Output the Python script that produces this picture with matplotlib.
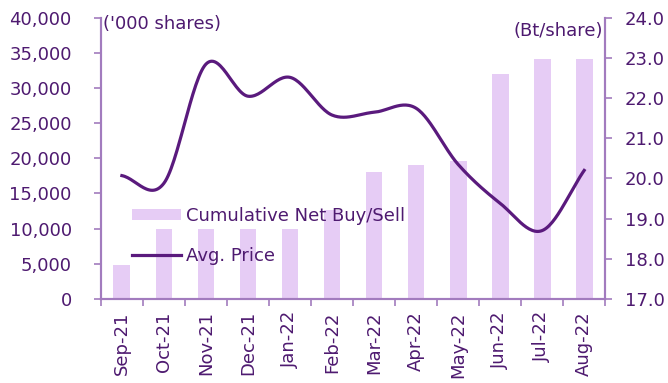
import numpy as np
import matplotlib.pyplot as plt

months = ['Sep-21', 'Oct-21', 'Nov-21', 'Dec-21', 'Jan-22', 'Feb-22',
          'Mar-22', 'Apr-22', 'May-22', 'Jun-22', 'Jul-22', 'Aug-22']
net_buy = [4800, 10000, 10000, 10000, 10000, 12600,
           18100, 19000, 19600, 32000, 34200, 34200]
avg_price = [20.07, 19.88, 22.85, 22.05, 22.52, 21.58,
             21.65, 21.75, 20.35, 19.38, 18.70, 20.20]

bar_col = '#E6CCF5'
line_col = '#5A1A7D'
text_col = '#4E1A70'
axis_col = '#A27BBE'


def smooth(xs, ys, n=30):
    # catmull-rom style curve through the points (like excel's smoothed line)
    xs = np.asarray(xs, float)
    ys = np.asarray(ys, float)
    px = np.concatenate([[2 * xs[0] - xs[1]], xs, [2 * xs[-1] - xs[-2]]])
    py = np.concatenate([[2 * ys[0] - ys[1]], ys, [2 * ys[-1] - ys[-2]]])
    out_x, out_y = [], []
    t = np.linspace(0, 1, n)
    for i in range(1, len(px) - 2):
        p0, p1, p2, p3 = [np.array([px[j], py[j]]) for j in range(i - 1, i + 3)]
        c1 = p1 + (p2 - p0) / 6
        c2 = p2 - (p3 - p1) / 6
        pts = ((1 - t) ** 3)[:, None] * p1 + (3 * (1 - t) ** 2 * t)[:, None] * c1 \
            + (3 * (1 - t) * t ** 2)[:, None] * c2 + (t ** 3)[:, None] * p2
        out_x.extend(pts[:, 0])
        out_y.extend(pts[:, 1])
    return out_x, out_y


plt.rcParams['font.family'] = 'DejaVu Sans'
fig = plt.figure(figsize=(6.68, 3.83), dpi=100)
ax = fig.add_axes([0.151, 0.22, 0.755, 0.733])
x = np.arange(len(months))

bars = ax.bar(x, net_buy, width=0.4, color=bar_col, label='Cumulative Net Buy/Sell', zorder=1)
ax.set_xlim(-0.5, len(months) - 0.5)
ax.set_ylim(0, 40000)
ax.set_yticks(range(0, 40001, 5000))
ax.set_yticklabels([f'{v:,}' for v in range(0, 40001, 5000)])
ax.set_xticks(x)
ax.set_xticklabels(months, rotation=90)
ax.set_xticks(np.arange(-0.5, len(months)), minor=True)
ax.tick_params(axis='x', which='major', length=0, pad=9)
ax.tick_params(axis='x', which='minor', length=5, color=axis_col, width=1.2)
ax.tick_params(axis='y', length=5, color=axis_col, width=1.2, pad=16)
ax.tick_params(labelsize=13, labelcolor=text_col)

ax2 = ax.twinx()
sx, sy = smooth(x, avg_price)
line, = ax2.plot(sx, sy, color=line_col, lw=2.3, label='Avg. Price')
ax2.set_ylim(17, 24)
ax2.set_yticks(np.arange(17, 24.01, 1))
ax2.set_yticklabels([f'{v:.1f}' for v in np.arange(17, 24.01, 1)])
ax2.tick_params(axis='y', length=5, color=axis_col, width=1.2, labelsize=13,
                labelcolor=text_col, pad=9)

for a in (ax, ax2):
    a.spines['top'].set_visible(False)
    for s in ('left', 'right', 'bottom'):
        a.spines[s].set_color(axis_col)
        a.spines[s].set_linewidth(1.5)

ax.text(0.005, 1.01, "('000 shares)", transform=ax.transAxes, ha='left', va='top',
        fontsize=13, color=text_col)
ax2.text(0.995, 0.985, '(Bt/share)', transform=ax2.transAxes, ha='right', va='top',
         fontsize=13, color=text_col)

leg = ax.legend([bars, line], ['Cumulative Net Buy/Sell', 'Avg. Price'],
                loc='upper left', bbox_to_anchor=(0.03, 0.385), frameon=False,
                fontsize=13, handlelength=2.7, handleheight=0.6, handletextpad=0.25,
                labelspacing=1.25)
for t in leg.get_texts():
    t.set_color(text_col)

fig.savefig('out.png', dpi=100)
